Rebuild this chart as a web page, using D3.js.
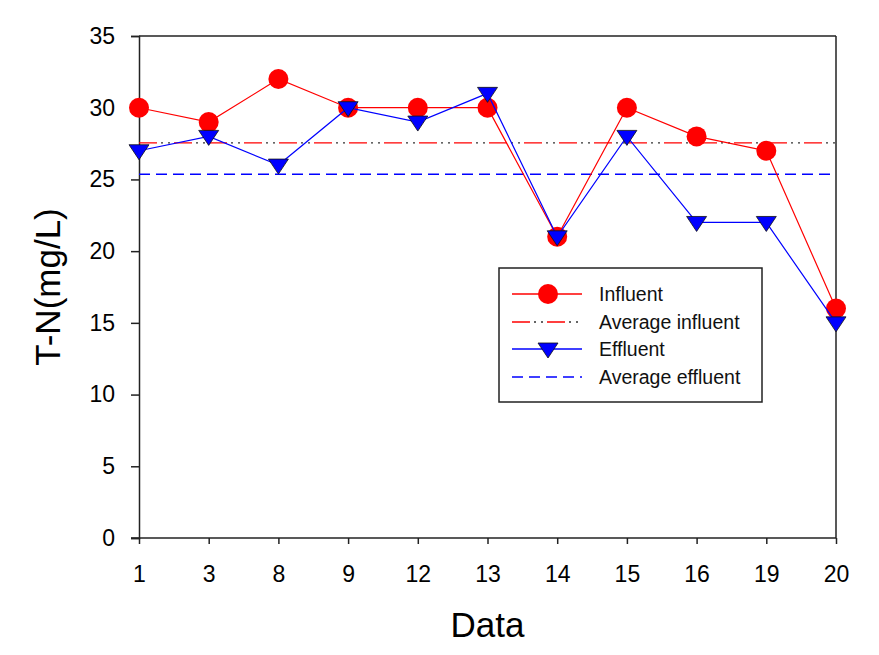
<!DOCTYPE html>
<html>
<head>
<meta charset="utf-8">
<script src="https://cdn.jsdelivr.net/npm/d3@7"></script>
<style>
  html, body { margin: 0; padding: 0; background: #fff; }
  svg { display: block; font-family: Arial, "Liberation Sans", sans-serif; }
</style>
</head>
<body>
<svg id="chart" width="879" height="655"></svg>
<script>
const categories = ["1", "3", "8", "9", "12", "13", "14", "15", "16", "19", "20"];
const influent = [30, 29, 32, 30, 30, 30, 21, 30, 28, 27, 16];
const effluent = [27, 28, 26, 30, 29, 31, 21, 28, 22, 22, 15];
const yTicks = [0, 5, 10, 15, 20, 25, 30, 35];
const legendLabels = ["Influent", "Average influent", "Effluent", "Average effluent"];

const avgIn = d3.mean(influent);
const avgEf = d3.mean(effluent);

const W = 879, H = 655;
const m = { left: 139, right: 43, top: 36, bottom: 117 };
const svg = d3.select("#chart");

const x = d3.scalePoint().domain(categories).range([m.left, W - m.right]);
const y = d3.scaleLinear().domain([0, 35]).range([H - m.bottom, m.top]);

const RED = "#ff0000", BLUE = "#0000ff", AX = "#222";

// frame (top/right)
svg.append("line").attr("x1", m.left).attr("x2", W - m.right).attr("y1", m.top).attr("y2", m.top)
  .attr("stroke", AX).attr("stroke-width", 1.5);
svg.append("line").attr("x1", W - m.right).attr("x2", W - m.right).attr("y1", m.top).attr("y2", H - m.bottom)
  .attr("stroke", AX).attr("stroke-width", 1.5);

// axes
const xAxis = svg.append("g").attr("transform", `translate(0,${H - m.bottom})`)
  .call(d3.axisBottom(x).tickSize(6).tickPadding(22));
const yAxis = svg.append("g").attr("transform", `translate(${m.left},0)`)
  .call(d3.axisLeft(y).tickValues(yTicks).tickSize(8).tickPadding(16));
[xAxis, yAxis].forEach(g => {
  g.select(".domain").attr("stroke", AX).attr("stroke-width", 1.5);
  g.selectAll(".tick line").attr("stroke", AX).attr("stroke-width", 1.5);
  g.selectAll(".tick text").attr("fill", "#000").style("font-size", "23px")
    .style("font-family", "Arial, 'Liberation Sans', sans-serif");
});
xAxis.select(".domain").attr("d", `M${m.left - 8},0H${W - m.right}`);

// axis titles
svg.append("text").attr("x", (m.left + W - m.right) / 2).attr("y", 637)
  .attr("text-anchor", "middle").style("font-size", "35px").attr("fill", "#000").text("Data");
svg.append("text").attr("transform", `translate(60,${(m.top + H - m.bottom) / 2}) rotate(-90)`)
  .attr("text-anchor", "middle").style("font-size", "35px").attr("fill", "#000").text("T-N(mg/L)");

// average lines
function avgInfluentLine(g, x1, x2, yy) {
  g.append("line").attr("x1", x1).attr("x2", x2).attr("y1", yy).attr("y2", yy)
    .attr("stroke", RED).attr("stroke-width", 1.3).attr("stroke-dasharray", "18 17");
  g.append("line").attr("x1", x1).attr("x2", x2).attr("y1", yy).attr("y2", yy)
    .attr("stroke", "#333").attr("stroke-width", 1.3).attr("stroke-dasharray", "0 22 2 5 2 4");
}
function avgEffluentLine(g, x1, x2, yy) {
  g.append("line").attr("x1", x1).attr("x2", x2).attr("y1", yy).attr("y2", yy)
    .attr("stroke", BLUE).attr("stroke-width", 1.5).attr("stroke-dasharray", "11 6");
}
avgInfluentLine(svg, m.left, W - m.right, y(avgIn));
avgEffluentLine(svg, m.left, W - m.right, y(avgEf));

// series
const line = d3.line().x((d, i) => x(categories[i])).y(d => y(d));
svg.append("path").datum(influent).attr("d", line).attr("fill", "none")
  .attr("stroke", RED).attr("stroke-width", 1.2);
svg.selectAll(".cin").data(influent).join("circle")
  .attr("cx", (d, i) => x(categories[i])).attr("cy", d => y(d)).attr("r", 10).attr("fill", RED);

svg.append("path").datum(effluent).attr("d", line).attr("fill", "none")
  .attr("stroke", BLUE).attr("stroke-width", 1.2);
const tri = "M-10,-6L10,-6L0,9Z";
svg.selectAll(".tef").data(effluent).join("path")
  .attr("transform", (d, i) => `translate(${x(categories[i])},${y(d)})`)
  .attr("d", tri).attr("fill", BLUE).attr("stroke", "#111").attr("stroke-width", 0.8);

// legend
const lg = svg.append("g");
lg.append("rect").attr("x", 499).attr("y", 268).attr("width", 263).attr("height", 134)
  .attr("fill", "#fff").attr("stroke", "#222").attr("stroke-width", 1.5);
const rowsY = [294, 322, 349, 377];
const lx1 = 512, lx2 = 582, lmx = 548;
lg.append("line").attr("x1", lx1).attr("x2", lx2).attr("y1", rowsY[0]).attr("y2", rowsY[0])
  .attr("stroke", RED).attr("stroke-width", 1.3);
lg.append("circle").attr("cx", lmx).attr("cy", rowsY[0]).attr("r", 10).attr("fill", RED);
avgInfluentLine(lg, lx1, lx2, rowsY[1]);
lg.append("line").attr("x1", lx1).attr("x2", lx2).attr("y1", rowsY[2]).attr("y2", rowsY[2])
  .attr("stroke", BLUE).attr("stroke-width", 1.3);
lg.append("path").attr("transform", `translate(${lmx},${rowsY[2]})`).attr("d", tri)
  .attr("fill", BLUE).attr("stroke", "#111").attr("stroke-width", 0.8);
avgEffluentLine(lg, lx1, lx2, rowsY[3]);
lg.selectAll(".lt").data(legendLabels).join("text")
  .attr("x", 599).attr("y", (d, i) => rowsY[i]).attr("dy", "0.35em")
  .style("font-size", "19.5px").attr("fill", "#111").text(d => d);
</script>
</body>
</html>
